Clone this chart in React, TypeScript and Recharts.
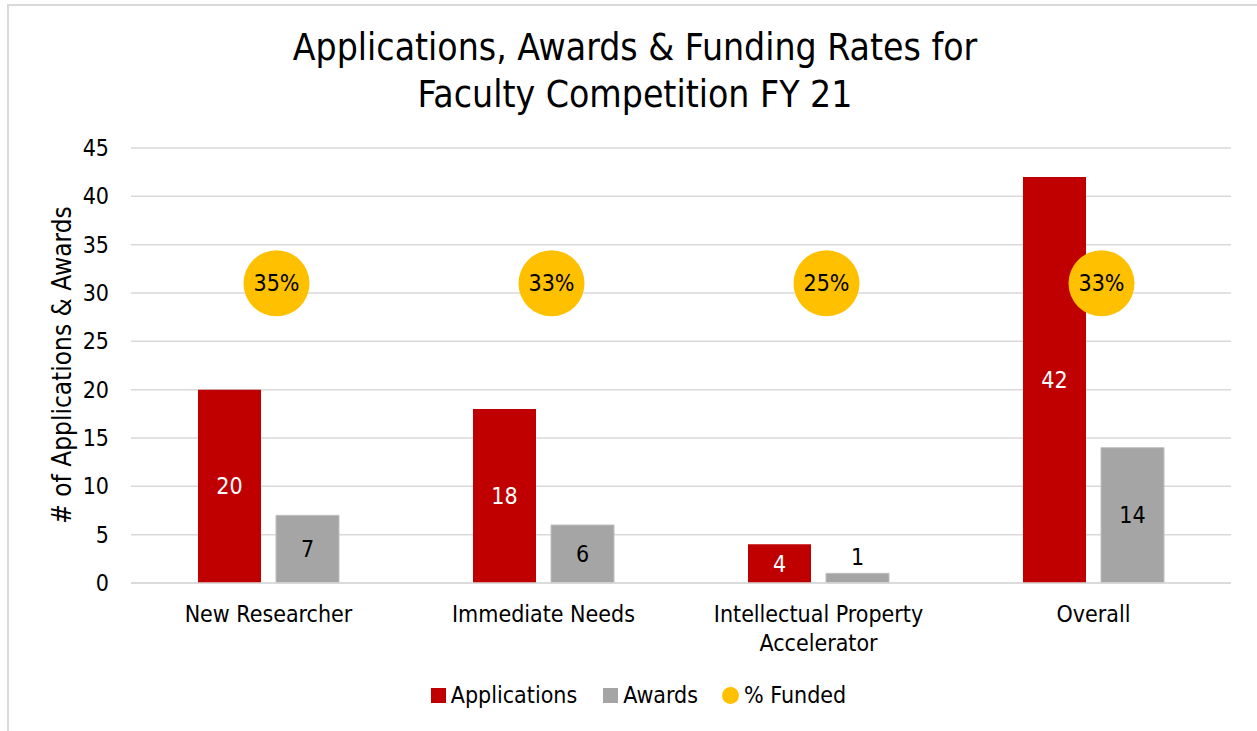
import { ComposedChart, Bar, Scatter, XAxis, YAxis, CartesianGrid, LabelList } from 'recharts';

const categories = ['New Researcher', 'Immediate Needs', 'Intellectual Property Accelerator', 'Overall'];
const applications = [20, 18, 4, 42];
const awards = [7, 6, 1, 14];
const fundedPct = ['35%', '33%', '25%', '33%'];
// the bubbles all sit at the same height on the count axis
const fundedMarkerY = [31, 31, 31, 31];
const yTicks = [0, 5, 10, 15, 20, 25, 30, 35, 40, 45];

const RED = '#C00000';
const GRAY = '#A5A5A5';
const YELLOW = '#FFC000';
const GRID = '#D9D9D9';
const FONT = "Tahoma, 'DejaVu Sans Condensed', 'Liberation Sans', sans-serif";
const FS = 23;

const data = categories.map((name, i) => ({
  name,
  applications: applications[i],
  awards: awards[i],
  funded: fundedMarkerY[i],
  pct: fundedPct[i],
}));

// wrap long category labels into two lines
function wrap(label: string): string[] {
  if (label.length <= 22) return [label];
  const cut = label.lastIndexOf(' ', 22);
  return [label.slice(0, cut), label.slice(cut + 1)];
}

const CategoryTick = (props: any) => {
  const { x, y, payload } = props;
  const lines = wrap(payload.value);
  return (
    <g>
      {lines.map((ln, i) => (
        <text key={i} x={x} y={y + 31 + i * 29} textAnchor="middle" fontSize={FS} fill="#000" fontFamily={FONT}>
          {ln}
        </text>
      ))}
    </g>
  );
};

const FundedBubble = (props: any) => {
  const { cx, cy, payload } = props;
  const x = cx + 8;
  return (
    <g>
      <circle cx={x} cy={cy} r={33} fill={YELLOW} />
      <text x={x} y={cy} dy={8} textAnchor="middle" fontSize={FS} fill="#000" fontFamily={FONT}>
        {payload.pct}
      </text>
    </g>
  );
};

// label in the middle of the bar, or just above it when the bar is too short
const barLabel = (color: string) => (props: any) => {
  const { x, y, width, height, value } = props;
  const inside = height > 28;
  return (
    <text
      x={x + width / 2}
      y={inside ? y + height / 2 + 8 : y - 8}
      textAnchor="middle"
      fontSize={FS}
      fill={inside ? color : '#000'}
      fontFamily={FONT}
    >
      {value}
    </text>
  );
};

export default function App() {
  return (
    <div style={{ position: 'absolute', left: 0, top: 0, width: 1257, height: 731, overflow: 'hidden', background: '#fff', fontFamily: FONT }}>
      <div style={{ position: 'absolute', left: 7, top: 4, width: 1300, height: 800, border: `2px solid ${GRID}`, boxSizing: 'border-box' }} />
      <div style={{ position: 'absolute', left: 0, width: 1270, top: 24, textAlign: 'center', fontSize: 37, lineHeight: '47px', color: '#000' }}>
        Applications, Awards &amp; Funding Rates for<br />Faculty Competition FY 21
      </div>
      <div style={{ position: 'absolute', left: 62, top: 365, transform: 'translate(-50%, -50%) rotate(-90deg)', whiteSpace: 'nowrap', fontSize: 26, color: '#000' }}>
        # of Applications &amp; Awards
      </div>

      <div style={{ position: 'absolute', left: 0, top: 0 }}>
        <ComposedChart
          width={1257}
          height={731}
          data={data}
          margin={{ top: 148, right: 26, bottom: 78, left: 71 }}
          barSize={63}
          barGap={15}
        >
          <CartesianGrid vertical={false} stroke={GRID} strokeWidth={1.5} />
          <XAxis
            dataKey="name"
            axisLine={{ stroke: GRID, strokeWidth: 1.5 }}
            tickLine={false}
            height={70}
            tick={<CategoryTick />}
            interval={0}
          />
          <YAxis
            width={60}
            domain={[0, 45]}
            ticks={yTicks}
            axisLine={false}
            tickLine={false}
            tick={{ fontSize: FS, fill: '#000', fontFamily: FONT }}
            tickMargin={16}
          />
          <Bar dataKey="applications" fill={RED} isAnimationActive={false}>
            <LabelList dataKey="applications" content={barLabel('#fff')} />
          </Bar>
          <Bar dataKey="awards" fill={GRAY} stroke="#BFBFBF" strokeWidth={1} isAnimationActive={false}>
            <LabelList dataKey="awards" content={barLabel('#000')} />
          </Bar>
          <Scatter dataKey="funded" shape={<FundedBubble />} isAnimationActive={false} />
        </ComposedChart>
      </div>

      <div style={{ position: 'absolute', top: 682, left: 0, width: 1277, display: 'flex', justifyContent: 'center', alignItems: 'center', fontSize: FS, color: '#000' }}>
        <span style={{ width: 15, height: 15, background: RED, marginRight: 5, display: 'inline-block' }} />
        <span style={{ marginRight: 26 }}>Applications</span>
        <span style={{ width: 15, height: 15, background: GRAY, marginRight: 5, display: 'inline-block' }} />
        <span style={{ marginRight: 24 }}>Awards</span>
        <span style={{ width: 17, height: 17, background: YELLOW, borderRadius: '50%', marginRight: 5, display: 'inline-block' }} />
        <span>% Funded</span>
      </div>
    </div>
  );
}
